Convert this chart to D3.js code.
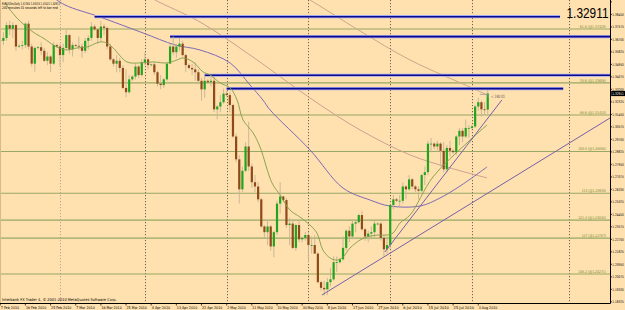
<!DOCTYPE html>
<html><head><meta charset="utf-8">
<script src="https://cdn.jsdelivr.net/npm/d3@7"></script>
<style>body{margin:0;background:#fff}svg{display:block}</style>
</head><body><svg id="c" width="625" height="310"></svg>
<script>
// ---------- DATA ----------
const open = [1.3665,1.3660,1.3680,1.3770,1.3745,1.3770,1.3620,1.3625,1.3630,1.3780, 1.3620,1.3500,1.3610,1.3615,1.3590,1.3520,1.3550,1.3500,1.3630,1.3620, 1.3560,1.3610,1.3700,1.3600,1.3630,1.3625,1.3620,1.3590,1.3660,1.3680, 1.3760,1.3740,1.3680,1.3760,1.3750,1.3620,1.3530,1.3500,1.3520,1.3470, 1.3330,1.3300,1.3390,1.3410,1.3480,1.3420,1.3510,1.3530,1.3490,1.3495, 1.3440,1.3360,1.3350,1.3390,1.3500,1.3620,1.3580,1.3620,1.3640,1.3560, 1.3490,1.3470,1.3460,1.3440,1.3380,1.3320,1.3380,1.3370,1.3380,1.3180, 1.3200,1.3230,1.3290,1.3280,1.3210,1.2990,1.2830,1.2620,1.2750,1.2920, 1.2780,1.2670,1.2640,1.2550,1.2360,1.2320,1.2360,1.2220,1.2320,1.2520, 1.2570,1.2545,1.2370,1.2380,1.2210,1.2370,1.2270,1.2280,1.2300,1.2230, 1.2230,1.2170,1.1970,1.1930,1.1920,1.1970,1.1990,1.2110,1.2110,1.2130, 1.2210,1.2330,1.2290,1.2380,1.2390,1.2440,1.2340,1.2290,1.2310,1.2320, 1.2380,1.2380,1.2280,1.2200,1.2230,1.2510,1.2550,1.2540,1.2540,1.2640, 1.2620,1.2690,1.2640,1.2620,1.2610,1.2720,1.2740,1.2940,1.2940,1.2920, 1.2940,1.2890,1.2760,1.2910,1.2890,1.2880,1.2990,1.3030,1.2990,1.3050, 1.3050,1.3060,1.3200,1.3230,1.3180,1.31784];
const high = [1.3680,1.3720,1.3790,1.3800,1.3790,1.3775,1.3635,1.3660,1.3790,1.3800, 1.3640,1.3620,1.3625,1.3650,1.3610,1.3580,1.3560,1.3650,1.3640,1.3640, 1.3640,1.3740,1.3710,1.3650,1.3640,1.3690,1.3640,1.3680,1.3700,1.3790, 1.3775,1.3750,1.3800,1.3780,1.3760,1.3640,1.3540,1.3560,1.3540,1.3490, 1.3460,1.3420,1.3420,1.3500,1.3490,1.3530,1.3580,1.3540,1.3500,1.3510, 1.3450,1.3420,1.3400,1.3510,1.3640,1.3690,1.3640,1.3680,1.3660,1.3570, 1.3500,1.3500,1.3510,1.3460,1.3400,1.3419,1.3390,1.3420,1.3410,1.3210, 1.3280,1.3325,1.3310,1.3300,1.3220,1.3010,1.2860,1.2780,1.2950,1.3093, 1.2800,1.2720,1.2670,1.2560,1.2370,1.2400,1.2370,1.2330,1.2540,1.2670, 1.2575,1.2560,1.2420,1.2410,1.2380,1.2400,1.2290,1.2320,1.2320,1.2290, 1.2300,1.2180,1.1980,1.1980,1.2000,1.2070,1.2150,1.2150,1.2140,1.2290, 1.2340,1.2360,1.2400,1.2410,1.2450,1.2470,1.2350,1.2330,1.2360,1.2400, 1.2390,1.2390,1.2300,1.2290,1.2520,1.2580,1.2560,1.2580,1.2670,1.2650, 1.2720,1.2700,1.2650,1.2640,1.2730,1.2780,1.2960,1.2980,1.2950,1.2960, 1.2950,1.2950,1.2930,1.2960,1.2900,1.3000,1.3050,1.3050,1.3110,1.3070, 1.3070,1.3210,1.3260,1.3240,1.3230,1.33153];
const low = [1.3650,1.3630,1.3660,1.3700,1.3680,1.3590,1.3610,1.3600,1.3610,1.3600, 1.3480,1.3444,1.3600,1.3560,1.3510,1.3490,1.3440,1.3490,1.3610,1.3480, 1.3510,1.3600,1.3570,1.3550,1.3615,1.3600,1.3540,1.3575,1.3600,1.3660, 1.3730,1.3640,1.3650,1.3700,1.3600,1.3520,1.3480,1.3440,1.3440,1.3320, 1.3265,1.3290,1.3380,1.3390,1.3400,1.3410,1.3490,1.3460,1.3480,1.3420, 1.3340,1.3320,1.3330,1.3380,1.3500,1.3560,1.3540,1.3590,1.3550,1.3440, 1.3460,1.3420,1.3380,1.3360,1.3240,1.3260,1.3360,1.3340,1.3160,1.3110, 1.3160,1.3220,1.3270,1.3160,1.2980,1.2810,1.2520,1.2600,1.2740,1.2750, 1.2630,1.2600,1.2530,1.2350,1.2280,1.2230,1.2190,1.2145,1.2300,1.2450, 1.2530,1.2350,1.2230,1.2200,1.2190,1.2250,1.2250,1.2260,1.2110,1.2170, 1.2170,1.1960,1.1910,1.1876,1.1880,1.1940,1.1980,1.2040,1.2100,1.2120, 1.2190,1.2250,1.2270,1.2320,1.2380,1.2330,1.2260,1.2250,1.2270,1.2280, 1.2370,1.2260,1.2150,1.2170,1.2200,1.2480,1.2530,1.2500,1.2520,1.2550, 1.2610,1.2620,1.2600,1.2550,1.2600,1.2650,1.2720,1.2880,1.2900,1.2880, 1.2780,1.2740,1.2740,1.2850,1.2870,1.2860,1.2930,1.2950,1.2980,1.2980, 1.3040,1.3050,1.3170,1.3130,1.3140,1.31421];
const close = [1.3660,1.3680,1.3770,1.3745,1.3770,1.3620,1.3625,1.3630,1.3780,1.3620, 1.3500,1.3610,1.3615,1.3590,1.3520,1.3550,1.3500,1.3630,1.3620,1.3560, 1.3610,1.3700,1.3600,1.3630,1.3625,1.3620,1.3590,1.3660,1.3680,1.3760, 1.3740,1.3680,1.3760,1.3750,1.3620,1.3530,1.3500,1.3520,1.3470,1.3330, 1.3300,1.3390,1.3410,1.3480,1.3420,1.3510,1.3530,1.3490,1.3495,1.3440, 1.3360,1.3350,1.3390,1.3500,1.3620,1.3580,1.3620,1.3640,1.3560,1.3490, 1.3470,1.3460,1.3440,1.3380,1.3320,1.3380,1.3370,1.3380,1.3180,1.3200, 1.3230,1.3290,1.3280,1.3210,1.2990,1.2830,1.2620,1.2750,1.2920,1.2780, 1.2670,1.2640,1.2550,1.2360,1.2320,1.2360,1.2220,1.2320,1.2520,1.2570, 1.2545,1.2370,1.2380,1.2210,1.2370,1.2270,1.2280,1.2300,1.2230,1.2230, 1.2170,1.1970,1.1930,1.1920,1.1970,1.1990,1.2110,1.2110,1.2130,1.2210, 1.2330,1.2290,1.2380,1.2390,1.2440,1.2340,1.2290,1.2310,1.2320,1.2380, 1.2380,1.2280,1.2200,1.2230,1.2510,1.2550,1.2540,1.2540,1.2640,1.2620, 1.2690,1.2640,1.2620,1.2610,1.2720,1.2740,1.2940,1.2940,1.2920,1.2940, 1.2890,1.2760,1.2910,1.2890,1.2880,1.2990,1.3030,1.2990,1.3050,1.3050, 1.3060,1.3200,1.3230,1.3180,1.3178,1.32911];

// moving averages as [bar, price]
const maFast = [[1.5,1.3925],[5.3,1.3820],[10.4,1.3722],[13.6,1.3680],[18.0,1.3617],[21.2,1.3596],[24.4,1.3610],[27.6,1.3617],[31.7,1.3652],[33.9,1.3645],[35.9,1.3610],[40.3,1.3512],[44.4,1.3505],[48.6,1.3512],[53.0,1.3505],[56.2,1.3526],[58.1,1.3540],[61.3,1.3512],[64.5,1.3442],[66.7,1.3421],[69.9,1.3365],[73.1,1.3330],[75.3,1.3246],[77.2,1.3106],[80.4,1.3015],[82.6,1.2917],[86.4,1.2665],[89.0,1.2580],[92.1,1.2475],[95.3,1.2426],[98.5,1.2370],[100.7,1.2314],[102.6,1.2195],[104.9,1.2139],[107.1,1.2125],[109.0,1.2146],[111.2,1.2209],[114.4,1.2265],[116.6,1.2286],[119.8,1.2300],[123.0,1.2300],[124.9,1.2314],[127.1,1.2384],[130.3,1.2440],[137.6,1.2707],[148.4,1.2945],[154.8,1.3071]];
const maMid = [[15.8,1.3981],[20.6,1.3911],[31.7,1.3827],[45.4,1.3715],[55.6,1.3631],[63.5,1.3596],[73.1,1.3505],[79.4,1.3351],[83.5,1.3246],[85.8,1.3176],[98.5,1.2896],[109.0,1.2629],[117.6,1.2545],[123.9,1.2503],[133.5,1.2503],[139.8,1.2559],[146.2,1.2643],[154.8,1.2777]];
const maSlowA = [[46.0,1.3990],[49.2,1.3946],[63.5,1.3792],[79.4,1.3561],[99.4,1.3246],[114.4,1.3036],[130.3,1.2861],[143.0,1.2770],[154.8,1.2700]];
const maSlowB = [[95.0,1.3990],[98.5,1.3946],[114.4,1.3729],[130.3,1.3526],[150.0,1.3330],[154.8,1.3281]];

// trendlines [bar1, price1, bar2, price2]
const trendLines = [[102.3,1.18802,193.9,1.31197],[122.3,1.21813,159.5,1.32457]];

// horizontal resistance lines
const hLevels = [1.3829,1.3689,1.3419,1.3325];
const hStart = [30,54,65,72];
const hEnd = [178,200,200,179];

// fibonacci levels
const fibNames = ["61.8","78.6","88.6","100.0","113","121.4","127","138.2"];
const fibPrices = [1.37429,1.33656,1.31410,1.28850,1.25930,1.24044,1.22787,1.20271];

// axes
const dateTickBars = [0,8,16,24,32,40,48,56,64,72,80,88,96,104,112,120,128,136,144,152];
const dateTickLabels = ["7 Feb 2010","16 Feb 2010","25 Feb 2010","7 Mar 2010","16 Mar 2010","25 Mar 2010","4 Apr 2010","13 Apr 2010","22 Apr 2010","2 May 2010","11 May 2010","20 May 2010","30 May 2010","8 Jun 2010","17 Jun 2010","27 Jun 2010","6 Jul 2010","15 Jul 2010","25 Jul 2010","3 Aug 2010"];
const gridBars = [19,46,72,98,124,150,181];
const priceTicks = [1.18325,1.19200,1.20075,1.20950,1.21825,1.22700,1.23575,1.24450,1.25325,1.26200,1.27075,1.27950,1.28825,1.29700,1.30575,1.31450,1.32325,1.33200,1.34075,1.34950,1.35825,1.36700,1.37575,1.38450,1.39325];
const lastPrice = 1.32911;
const infoLine1 = "EURUSDm,Daily  1.31784 1.33153 1.31421 1.32911";
const infoLine2 = "240 minutes 01 seconds left to bar end";
const copyright = "Interbank FX Trader 4, \u00a9 2001-2010 MetaQuotes Software Corp.";
const objLabel = "240.01";

// ---------- DRAW ----------
const W = 625, H = 310, plotR = 610, plotB = 303.5;
const svg = d3.select("#c");
const x = d3.scaleLinear().domain([0,155]).range([0.24, 0.24 + 155*3.145]);
const y = d3.scaleLinear().domain([1.18325,1.39325]).range([301.8,1.9]);
const FONT = "'DejaVu Sans', 'Liberation Sans', sans-serif";

// text squeezed horizontally to a target width via transform
function sqText(parent, tx, ty, str, size, width, opts) {
  opts = opts || {};
  const t = parent.append("text").attr("x",0).attr("y",0)
    .attr("font-family", opts.font || FONT).attr("font-size", size)
    .attr("fill", opts.fill || "#000").attr("text-anchor", opts.anchor || "start").text(str);
  const w = t.node().getComputedTextLength() || width;
  t.attr("transform", `translate(${tx},${ty}) scale(${width / w},1)`);
  return t;
}

svg.append("rect").attr("width",W).attr("height",H).attr("fill","#FFE0AF");
svg.append("defs").append("clipPath").attr("id","plot")
  .append("rect").attr("x",0).attr("y",0).attr("width",plotR).attr("height",plotB);
const g = svg.append("g").attr("clip-path","url(#plot)");

svg.append("line").attr("x1",0.5).attr("x2",0.5).attr("y1",0).attr("y2",plotB).attr("stroke","#D9B98A").attr("stroke-width",1);

// vertical grid
g.selectAll("line.vg").data(gridBars).join("line").attr("class","vg")
  .attr("x1",d=>Math.round(x(d))+0.5).attr("x2",d=>Math.round(x(d))+0.5)
  .attr("y1",0).attr("y2",plotB)
  .attr("stroke",(d,i)=> i===0 ? "#B8A890" : "#6E6458").attr("stroke-width",1)
  .attr("stroke-dasharray","1.2,1.8");

// fib lines + labels
g.selectAll("line.fib").data(fibPrices).join("line").attr("class","fib")
  .attr("x1",0).attr("x2",plotR).attr("y1",d=>y(d)).attr("y2",d=>y(d))
  .attr("stroke","#98A865").attr("stroke-width",1.1);
fibPrices.forEach((p,i)=>{
  const s = fibNames[i]+" (@"+p.toFixed(5)+")";
  sqText(svg, 606, y(p)-1.2, s, 3.8, s.length*1.75, {anchor:"end", fill:"#6F8A30"});
});

// moving averages
const lineGen = d3.line().x(d=>x(d[0])).y(d=>y(d[1])).curve(d3.curveCatmullRom.alpha(0.5));
g.append("path").datum(maSlowB).attr("d",lineGen).attr("fill","none").attr("stroke","#C9A98C").attr("stroke-width",1);
g.append("path").datum(maSlowA).attr("d",lineGen).attr("fill","none").attr("stroke","#CFA090").attr("stroke-width",1);
g.append("path").datum(maMid).attr("d",lineGen).attr("fill","none").attr("stroke","#7D6AB5").attr("stroke-width",1);

// horizontal resistance lines
hLevels.forEach((p,i)=>{
  g.append("line").attr("x1",x(hStart[i])).attr("x2",x(hEnd[i])).attr("y1",y(p)).attr("y2",y(p))
    .attr("stroke","#A8A8F0").attr("stroke-width",3.2);
  g.append("line").attr("x1",x(hStart[i])).attr("x2",x(hEnd[i])).attr("y1",y(p)).attr("y2",y(p))
    .attr("stroke","#0A0A8C").attr("stroke-width",1.6);
});

// candles
const idx = d3.range(close.length);
g.selectAll("line.wick").data(idx).join("line").attr("class","wick")
  .attr("x1",i=>x(i)).attr("x2",i=>x(i)).attr("y1",i=>y(high[i])).attr("y2",i=>y(low[i]))
  .attr("stroke","#C4B496").attr("stroke-width",0.9);
g.selectAll("rect.body").data(idx).join("rect").attr("class","body")
  .attr("x",i=>x(i)-1.1).attr("width",2.2)
  .attr("y",i=>y(Math.max(open[i],close[i])))
  .attr("height",i=>Math.max(0.8, Math.abs(y(open[i])-y(close[i]))))
  .attr("fill",i=> close[i]>=open[i] ? "#1FA51F" : "#8E4A1A");

g.append("path").datum(maFast).attr("d",lineGen).attr("fill","none").attr("stroke","#7E9E48").attr("stroke-width",0.9);

// trendlines
g.selectAll("line.tl").data(trendLines).join("line").attr("class","tl")
  .attr("x1",d=>x(d[0])).attr("y1",d=>y(d[1])).attr("x2",d=>x(d[2])).attr("y2",d=>y(d[3]))
  .attr("stroke","#7860A8").attr("stroke-width",1);

// object label near last bar
const lb = x(154.8);
g.append("path").attr("d",`M${lb-7},${y(1.3285)} h8 v3`).attr("fill","none").attr("stroke","#999").attr("stroke-width",0.8);
sqText(svg, lb+4, y(1.3262), "< "+objLabel, 4.5, 14, {fill:"#555"});

// big last price
sqText(svg, 608.5, 17.5, lastPrice.toFixed(5), 14, 42, {anchor:"end", font:"'Liberation Sans', Arial, sans-serif"});

// info text
sqText(svg, 2, 4.6, infoLine1, 3.8, 58);
sqText(svg, 2, 9, infoLine2, 3.8, 56);
sqText(svg, 2, 300.5, copyright, 3.9, 115);

// axes lines
svg.append("line").attr("x1",0).attr("x2",plotR+0.5).attr("y1",plotB).attr("y2",plotB).attr("stroke","#000").attr("stroke-width",1);
svg.append("line").attr("x1",plotR+0.5).attr("x2",plotR+0.5).attr("y1",0).attr("y2",plotB).attr("stroke","#000").attr("stroke-width",1);

// price axis
const yAxis = svg.append("g");
yAxis.selectAll("line").data(priceTicks).join("line")
  .attr("x1",plotR+0.5).attr("x2",plotR+2).attr("y1",d=>y(d)).attr("y2",d=>y(d)).attr("stroke","#000").attr("stroke-width",0.7);
priceTicks.filter(p=>Math.abs(y(p)-y(lastPrice))>3 && y(p)>3).forEach(p=>{
  sqText(yAxis, 612.3, y(p)+1.4, p.toFixed(5), 3.6, 11.4);
});
svg.append("rect").attr("x",611.2).attr("y",y(lastPrice)-2.6).attr("width",13.8).attr("height",5.2).attr("fill","#000");
sqText(svg, 612.3, y(lastPrice)+1.4, lastPrice.toFixed(5), 3.6, 11.4, {fill:"#fff"});

// date axis
const xAxis = svg.append("g");
xAxis.selectAll("line").data(dateTickBars).join("line")
  .attr("x1",d=>x(d)).attr("x2",d=>x(d)).attr("y1",plotB).attr("y2",plotB+2).attr("stroke","#000").attr("stroke-width",0.7);
dateTickBars.forEach((b,i)=>{
  sqText(xAxis, x(b)+0.5, 308.6, dateTickLabels[i], 3.7, dateTickLabels[i].length*1.85);
});
</script>
</body></html>
